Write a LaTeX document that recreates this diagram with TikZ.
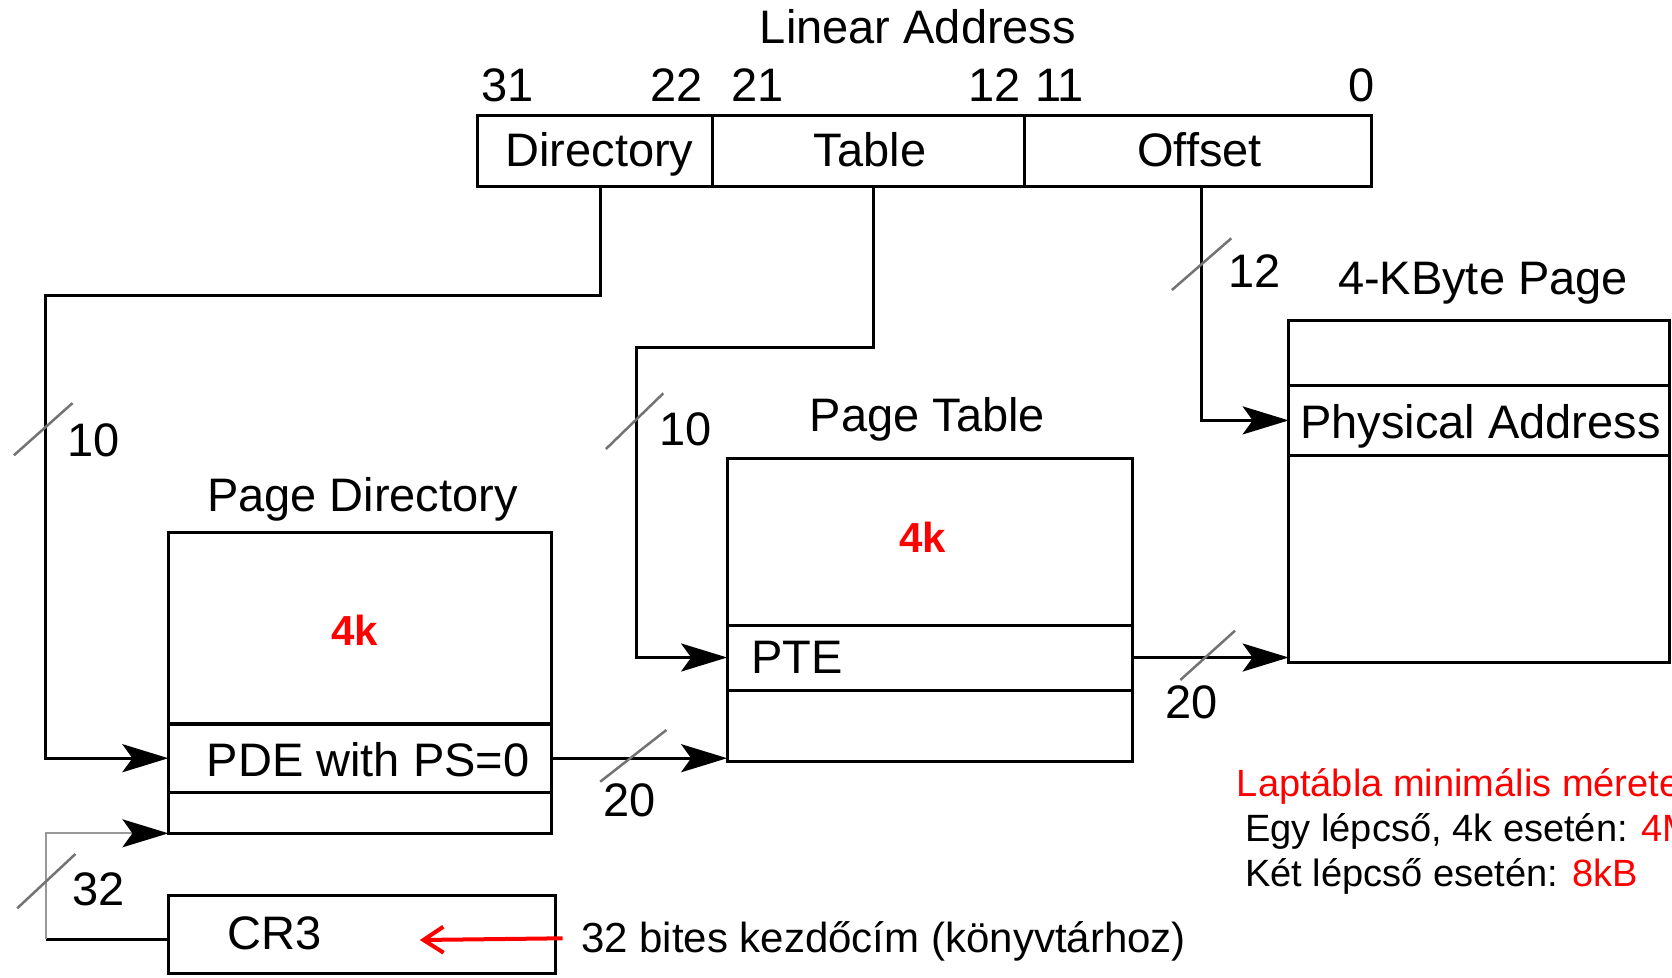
\documentclass[tikz,border=0pt]{standalone}
\usepackage{fontspec}
\setmainfont{Liberation Sans}
\usetikzlibrary{arrows.meta}

\tikzset{
  cell/.style n args={2}{draw, line width=3pt, inner sep=0pt, outer sep=0pt,
    minimum width=#1, minimum height=#2},
  lbl/.style={font=\fontsize{47}{56}\selectfont, inner sep=0pt},
  note/.style={font=\fontsize{38}{45}\selectfont, inner sep=0pt},
  hint/.style={font=\fontsize{42}{50}\selectfont, inner sep=0pt},
  kk/.style={font=\fontsize{42}{50}\selectfont\bfseries, text=red, inner sep=0pt},
  conn/.style={line width=3pt},
  faint/.style={line width=2pt, draw=black!40},
  headed/.style={-{Stealth[length=46pt, width=28pt, inset=10pt, color=black]}},
  slash/.style={draw=black!55, line width=2.5pt},
}

\begin{document}
\begin{tikzpicture}[x=1pt, y=-1pt]
\useasboundingbox (0,0) rectangle (1672,977);
\clip (0,0) rectangle (1672,977);

% ---- linear address register ----
\node[lbl, anchor=base] (la) at (918,43.3) {Linear Address};
\node[lbl, anchor=base west] (b31) at (480.8,101.7) {31};
\node[lbl, anchor=base east] (b22) at (703.2,101.7) {22};
\node[lbl, anchor=base west] (b21) at (731.6,101.7) {21};
\node[lbl, anchor=base east] (b12) at (1020.5,101.7) {12};
\node[lbl, anchor=base west] (b11) at (1035,101.7) {11};
\node[lbl, anchor=base east] (b0) at (1375,101.7) {0};

\node[cell={234.6}{71.4}] (dir) at (595,150.9) {};
\node[cell={312.4}{71.4}] (tbl) at (868.5,150.9) {};
\node[cell={346.6}{71.4}] (off) at (1198,150.9) {};
\node[lbl, anchor=base] (dirt) at (599.4,166.7) {Directory};
\node[lbl, anchor=base] (tblt) at (870,166.7) {Table};
\node[lbl, anchor=base] (offt) at (1199.6,166.7) {Offset};

% ---- page directory ----
\node[lbl, anchor=base] (pdt) at (362.5,511.8) {Page Directory};
\node[cell={382.6}{191.9}] (pd) at (359.7,628) {};
\node[cell={382.6}{68.3}] (pde) at (359.7,758.2) {};
\node[cell={382.6}{41}] (pdlow) at (359.7,812.8) {};
\node[kk, anchor=base] (pdk) at (355,645.1) {4k};
\node[lbl, anchor=base west] (pdet) at (206.7,776) {PDE with PS=0};

% ---- CR3 ----
\node[cell={386.6}{78.3}] (cr3) at (361.7,934.2) {};
\node[lbl, anchor=base west] (cr3t) at (227.7,949.3) {CR3};

% ---- page table ----
\node[lbl, anchor=base] (ptt) at (927.4,431.7) {Page Table};
\node[cell={405.7}{166.7}] (pt) at (930,541.7) {};
\node[cell={405.7}{65}] (pte) at (930,657.5) {};
\node[cell={405.7}{71}] (ptlow) at (930,725.5) {};
\node[kk, anchor=base] (ptk) at (922.8,552.7) {4k};
\node[lbl, anchor=base west] (ptet) at (751.4,673.3) {PTE};

% ---- 4 KByte page ----
\node[lbl, anchor=base] (pgt) at (1483,294) {4-KByte Page};
\node[cell={380.5}{65.7}] (pg1) at (1478.9,352.9) {};
\node[cell={380.5}{69.3}] (pa) at (1478.9,420.4) {};
\node[cell={380.5}{207.3}] (pg3) at (1478.9,558.7) {};
\node[lbl, anchor=base west] (pat) at (1300,438.3) {Physical Address};

% ---- connectors ----
\coordinate (dirbend) at (45.9,295.4);
\coordinate (tblbend) at (636.5,347.6);
\coordinate (cr3bend) at (45.9,939);
\draw[conn, headed] ([xshift=5.6pt]dir.south) |- (dirbend) |- (pde.west);
\draw[conn, headed] ([xshift=4.9pt]tbl.south) |- (tblbend) |- (pte.west);
\draw[conn, headed] ([xshift=3.4pt]off.south) |- (pa.west);
\draw[conn, headed] (pde.east) -- (pde.east -| ptlow.west);
\draw[conn, headed] (pte.east) -- (pte.east -| pg3.west);
\draw[conn] ([yshift=-4.8pt]cr3.west) -- (cr3bend);
\draw[faint, headed] (cr3bend) |- (pdlow.south west);

% ---- bus width marks ----
\draw[slash] (13.9,455.3) -- (72.5,403.1);
\draw[slash] (605.9,449) -- (663.3,393.3);
\draw[slash] (1171.9,290) -- (1231.3,238.3);
\draw[slash] (600.2,781.7) -- (666.4,730);
\draw[slash] (1180.3,680) -- (1235,630.7);
\draw[slash] (17.2,908.3) -- (75.4,854);
\node[lbl, anchor=base west] (w10a) at (67.5,456.4) {10};
\node[lbl, anchor=base west] (w10b) at (659,445) {10};
\node[lbl, anchor=base west] (w12) at (1228,287.7) {12};
\node[lbl, anchor=base west] (w20a) at (603,816.7) {20};
\node[lbl, anchor=base west] (w20b) at (1165.6,718.7) {20};
\node[lbl, anchor=base west] (w32) at (72.6,905.7) {32};

% ---- CR3 annotation ----
\node[hint, anchor=base west] (cr3note) at (581,952) {32 bites kezdőcím (könyvtárhoz)};
\coordinate (redtail) at (562.6,938.3);
\coordinate (redhead) at (419.8,940);
\draw[red, line width=4pt, -{Straight Barb[length=20pt, width=26pt]}] (redtail) -- (redhead);

% ---- size notes ----
\node[note, text=red, anchor=base west] (sz1) at (1236.7,796.7) {Laptábla minimális mérete};
\node[note, anchor=base west] (sz2) at (1245.2,841.7) {Egy lépcső, 4k esetén: \textcolor{red}{4M}};
\node[note, anchor=base west] (sz3) at (1245.2,886.7) {Két lépcső esetén: \textcolor{red}{8kB}};
\end{tikzpicture}
\end{document}
